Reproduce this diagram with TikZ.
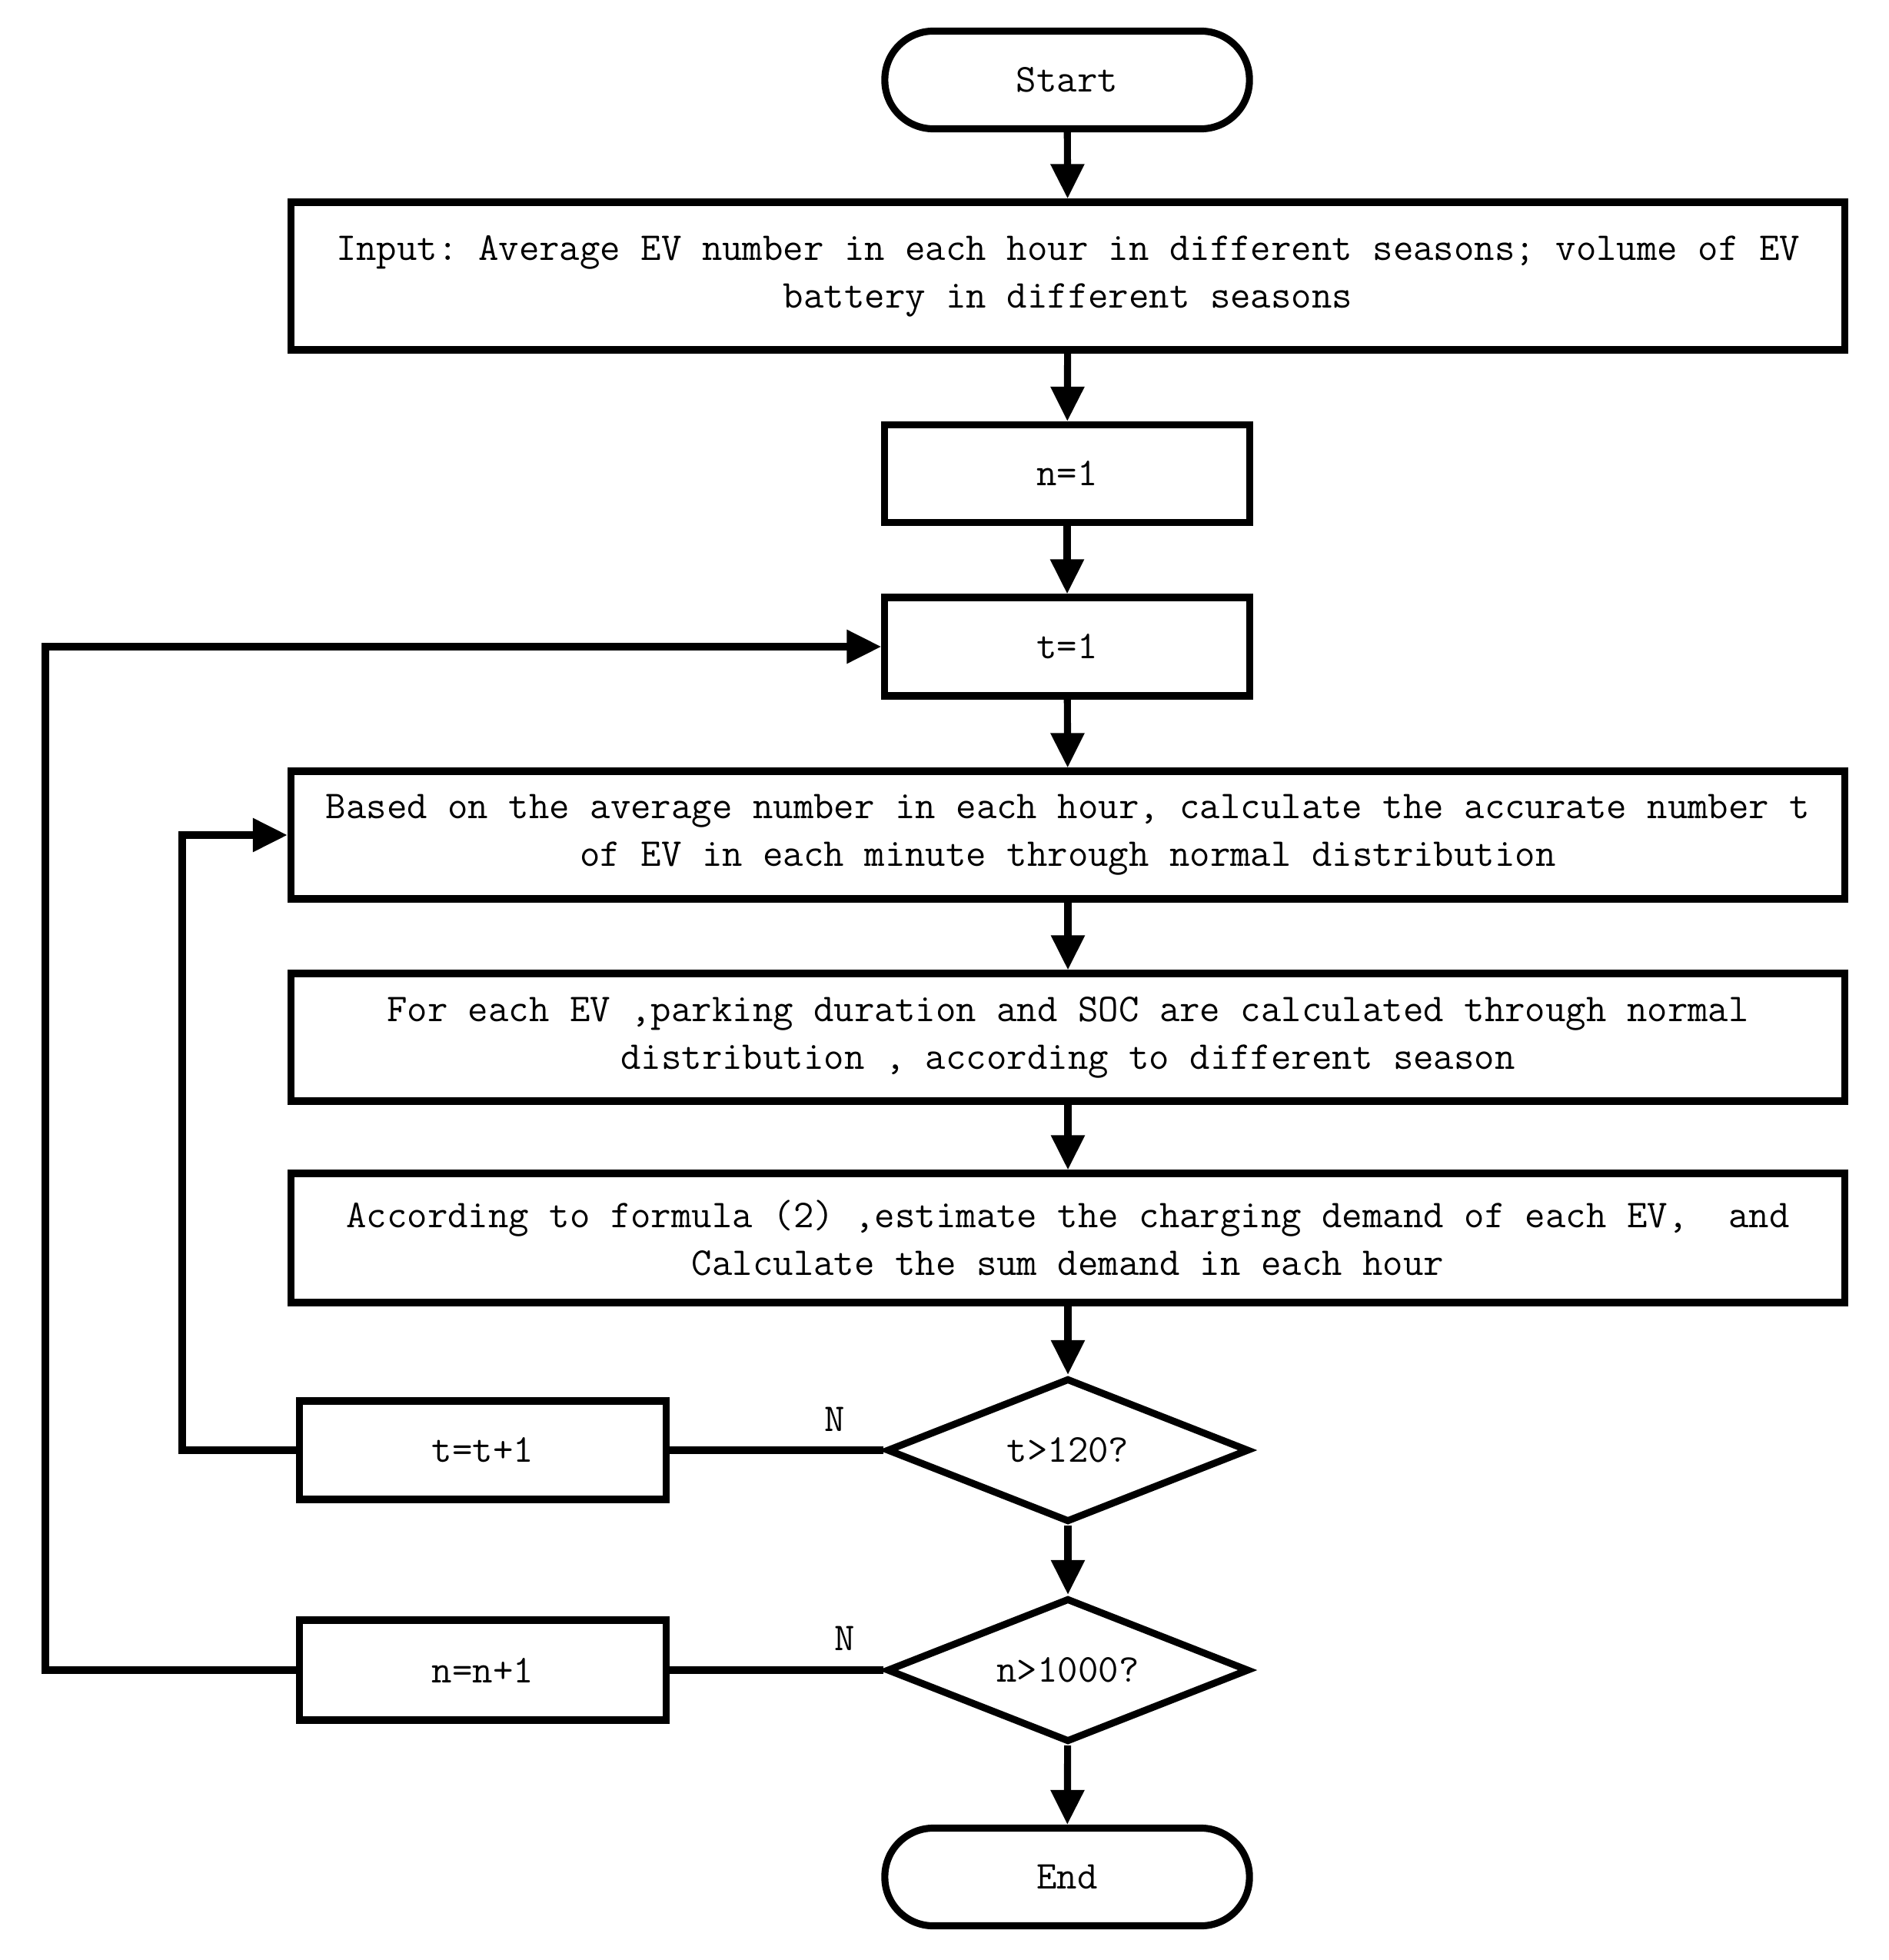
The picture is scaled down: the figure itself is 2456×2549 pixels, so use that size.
\documentclass[tikz,border=0pt]{standalone}
\usepackage{fontspec}
\usetikzlibrary{shapes.geometric,arrows.meta}
\frenchspacing
\begin{document}
\begin{tikzpicture}[x=0.01cm,y=-0.01cm,
  every node/.style={font=\ttfamily\fontsize{14.6pt}{17.6pt}\selectfont\frenchspacing, inner sep=0pt},
  proc/.style={draw, rectangle, line width=2.6pt, align=center},
  term/.style={draw, rectangle, rounded corners=0.63cm, line width=2.6pt, minimum width=4.74cm, minimum height=1.27cm},
  dec/.style={draw, diamond, aspect=2.5, line width=2.6pt, minimum width=4.71cm, minimum height=1.87cm},
  arr/.style={line width=2.6pt, -{Triangle[length=0.45cm,width=0.42cm]}},
  ln/.style={line width=2.6pt}]
\useasboundingbox (0,0) rectangle (2456,2549);
\fill[white] (0,0) rectangle (2456,2549);

\node[term] (start) at (1388,104) {Start};
\node[proc, minimum width=20.2cm, minimum height=1.92cm] (input) at (1389,359)
  {Input: Average EV number in each hour in different seasons; volume of EV\\battery in different seasons};
\node[proc, minimum width=4.74cm, minimum height=1.27cm] (n1) at (1388,616) {n=1};
\node[proc, minimum width=4.74cm, minimum height=1.28cm] (t1) at (1388,841) {t=1};
\node[proc, minimum width=20.2cm, minimum height=1.66cm] (based) at (1389,1086)
  {Based on the average number in each hour, calculate the accurate number t\\of EV in each minute through normal distribution};
\node[proc, minimum width=20.2cm, minimum height=1.66cm] (foreach) at (1389,1349)
  {For each EV ,parking duration and SOC are calculated through normal\\distribution , according to different season};
\node[proc, minimum width=20.2cm, minimum height=1.68cm] (accord) at (1389,1610)
  {According to formula (2) ,estimate the charging demand of each EV,~~and\\Calculate the sum demand in each hour};
\node[dec] (d1) at (1389,1886) {t>120?};
\node[proc, minimum width=4.76cm, minimum height=1.28cm] (tt) at (628,1886) {t=t+1};
\node[dec] (d2) at (1389,2172) {n>1000?};
\node[proc, minimum width=4.76cm, minimum height=1.30cm] (nn) at (628,2172) {n=n+1};
\node[term] (end) at (1388,2441) {End};

\node (lab1) at (1086,1846) {N};
\node (lab2) at (1099,2131) {N};

\coordinate (oc) at (59,0);
\coordinate (ic) at (237,0);

\draw[arr] (start) -- (input);
\draw[arr] (input) -- (n1);
\draw[arr] (n1) -- (t1);
\draw[arr] (t1) -- (based);
\draw[arr] (based) -- (foreach);
\draw[arr] (foreach) -- (accord);
\draw[arr] (accord) -- (d1);
\draw[arr] (d1) -- (d2);
\draw[arr] (d2) -- (end);
\draw[ln] (d1.west) -- (tt.east);
\draw[ln] (d2.west) -- (nn.east);
\draw[arr] (tt.west) -- (tt.west -| ic) |- (based.west);
\draw[arr] (nn.west) -- (nn.west -| oc) |- (t1.west);
\end{tikzpicture}
\end{document}
